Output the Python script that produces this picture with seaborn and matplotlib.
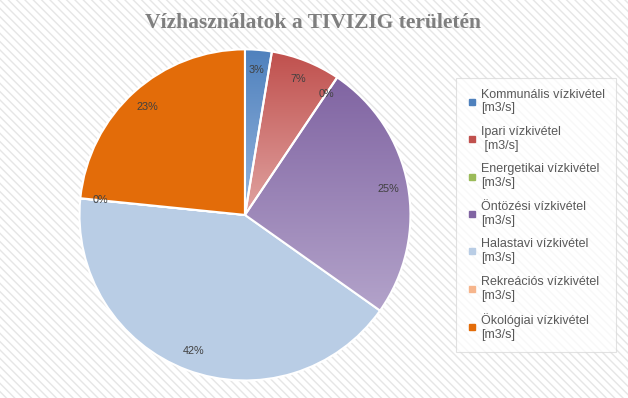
import numpy as np
import seaborn as sns
import matplotlib.pyplot as plt
from matplotlib.colors import to_rgb
from matplotlib.lines import Line2D
from matplotlib.patches import Rectangle

sns.set_theme(style="white")
plt.rcParams['font.family'] = ['Liberation Sans', 'DejaVu Sans']
plt.rcParams['hatch.linewidth'] = 1.0

# adatok (becsült arányok a képről)
labels = ["Kommunális vízkivétel\n[m3/s]", "Ipari vízkivétel\n [m3/s]",
          "Energetikai vízkivétel\n[m3/s]", "Öntözési vízkivétel\n[m3/s]",
          "Halastavi vízkivétel\n[m3/s]", "Rekreációs vízkivétel\n[m3/s]",
          "Ökológiai vízkivétel\n[m3/s]"]
values = [2.6, 6.8, 0.02, 25.4, 41.8, 0.02, 23.4]
colors = ["#4f81bd", "#c0504d", "#9bbb59", "#8064a2", "#b9cde5", "#f6b58c", "#e36c09"]
# gradiens: felső szín -> alsó (világosabb) szín
grad_ends = {0: "#95b5de", 1: "#e0a3a1", 3: "#b3a3ca"}

fig = plt.figure(figsize=(6.28, 3.98), dpi=100)
fig.patch.set_facecolor("white")
fig.patches.append(Rectangle((0, 0), 1, 1, transform=fig.transFigure, facecolor="white",
                             edgecolor="#e6e6e6", hatch="\\\\\\\\", linewidth=0, zorder=-1))

ax = fig.add_axes([0.1266, 0.044, 0.527, 0.832])
wedges, texts, autotexts = ax.pie(values, colors=colors, startangle=90, counterclock=False,
                                  autopct="%1.0f%%", pctdistance=0.88,
                                  wedgeprops=dict(edgecolor="white", linewidth=1.5),
                                  textprops=dict(fontsize=7.8, color="#404040"))
ax.set_aspect("equal")
ax.axis("off")

for i, c2 in grad_ends.items():
    w = wedges[i]
    verts = w.get_path().vertices
    x0, y0 = verts.min(axis=0)
    x1, y1 = verts.max(axis=0)
    top = np.array(to_rgb(colors[i]))
    bot = np.array(to_rgb(c2))
    t = np.linspace(0, 1, 256)[:, None]
    img = (top * (1 - t) + bot * t)[:, None, :]
    im = ax.imshow(img, extent=(x0, x1, y0, y1), origin="upper", aspect="auto",
                   zorder=w.get_zorder() + 0.1, interpolation="bilinear")
    im.set_clip_path(w)
    w.set_facecolor("none")
    w.set_zorder(w.get_zorder() + 0.2)
for a in autotexts:
    a.set_zorder(5)

ax.set_xlim(-1.0, 1.0)
ax.set_ylim(-1.0, 1.0)

fig.suptitle("Vízhasználatok a TIVIZIG területén", x=0.499, y=0.968,
             fontsize=15.5, fontweight="bold", color="#7f7f7f", family="Liberation Serif")

handles = [Line2D([], [], marker="s", linestyle="none", markersize=4.5,
                  markerfacecolor=c, markeredgecolor=c) for c in colors]
leg = fig.legend(handles, labels, loc="upper left", bbox_to_anchor=(0.726, 0.804),
                 frameon=True, fontsize=9, labelcolor="#595959", handlelength=0.8,
                 handletextpad=0.35, labelspacing=0.93, borderpad=0.85,
                 fancybox=False, borderaxespad=0)
leg.get_frame().set_edgecolor("#d9d9d9")
leg.get_frame().set_facecolor("white")
leg.get_frame().set_alpha(0.75)
leg.get_frame().set_linewidth(0.8)

fig.savefig("out.png", dpi=100)
